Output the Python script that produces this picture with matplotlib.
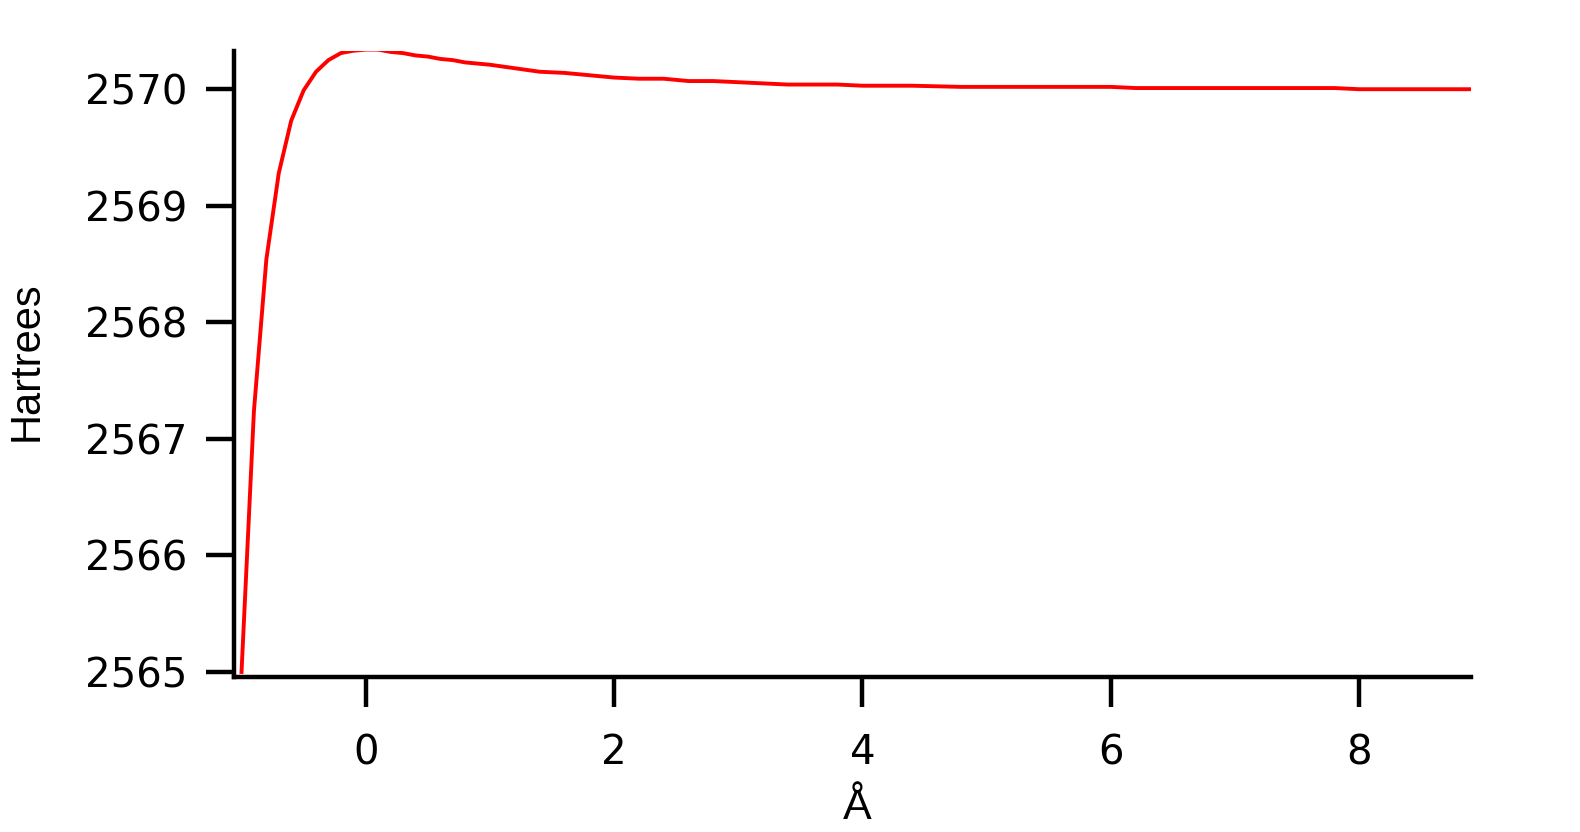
import matplotlib
matplotlib.use("Agg")
import matplotlib.pyplot as plt

# Data
distance = [-1.0, -0.9, -0.8, -0.7, -0.6, -0.5, -0.4, -0.3, -0.2, -0.1,
            0.0, 0.1, 0.2, 0.3, 0.4, 0.5, 0.6, 0.7, 0.8, 0.9,
            1.0, 1.2, 1.4, 1.6, 1.8, 2.0, 2.2, 2.4, 2.6, 2.8,
            3.0, 3.2, 3.4, 3.6, 3.8, 4.0, 4.4, 4.8, 5.2, 5.6,
            6.0, 6.2, 7.0, 7.8, 8.0, 8.5, 8.9]
energy = [2565.00, 2567.24, 2568.54, 2569.28, 2569.73, 2569.99, 2570.15, 2570.25, 2570.31, 2570.33,
          2570.34, 2570.34, 2570.32, 2570.31, 2570.29, 2570.28, 2570.26, 2570.25, 2570.23, 2570.22,
          2570.21, 2570.18, 2570.15, 2570.14, 2570.12, 2570.10, 2570.09, 2570.09, 2570.07, 2570.07,
          2570.06, 2570.05, 2570.04, 2570.04, 2570.04, 2570.03, 2570.03, 2570.02, 2570.02, 2570.02,
          2570.02, 2570.01, 2570.01, 2570.01, 2570.00, 2570.00, 2570.00]
x_ticks = [0, 2, 4, 6, 8]
y_ticks = [2565, 2566, 2567, 2568, 2569, 2570]
x_label = "Å"
y_label = "Hartrees"

fig = plt.figure(figsize=(15.8, 8.32), dpi=100)
ax = fig.add_axes([0.1483, 0.1863, 0.931 - 0.1483, 0.939 - 0.1863])

ax.plot(distance, energy, color="#ff0000", linewidth=2.8)

ax.set_xlim(-1.058, 8.90)
ax.set_ylim(2564.957, 2570.33)
ax.set_xticks(x_ticks)
ax.set_yticks(y_ticks)

for s in ("top", "right"):
    ax.spines[s].set_visible(False)
for s in ("left", "bottom"):
    ax.spines[s].set_linewidth(3.2)
    ax.spines[s].set_color("black")
    ax.spines[s].set_capstyle("projecting")

ax.tick_params(axis="x", direction="out", length=21.5, width=3.2, pad=19,
               labelsize=29)
ax.tick_params(axis="y", direction="out", length=20, width=3.2, pad=14,
               labelsize=29)
for lab in ax.get_xticklabels() + ax.get_yticklabels():
    lab.set_family("DejaVu Sans")

ax.set_xlabel(x_label, fontsize=31, family="Liberation Sans")
ax.set_ylabel(y_label, fontsize=30, family="Liberation Sans")
ax.xaxis.set_label_coords(0.504, -0.178)
ax.yaxis.set_label_coords(-0.168, 0.505)
ax.yaxis.label.set_va("center")

fig.savefig("out.png", dpi=100, facecolor="white")
